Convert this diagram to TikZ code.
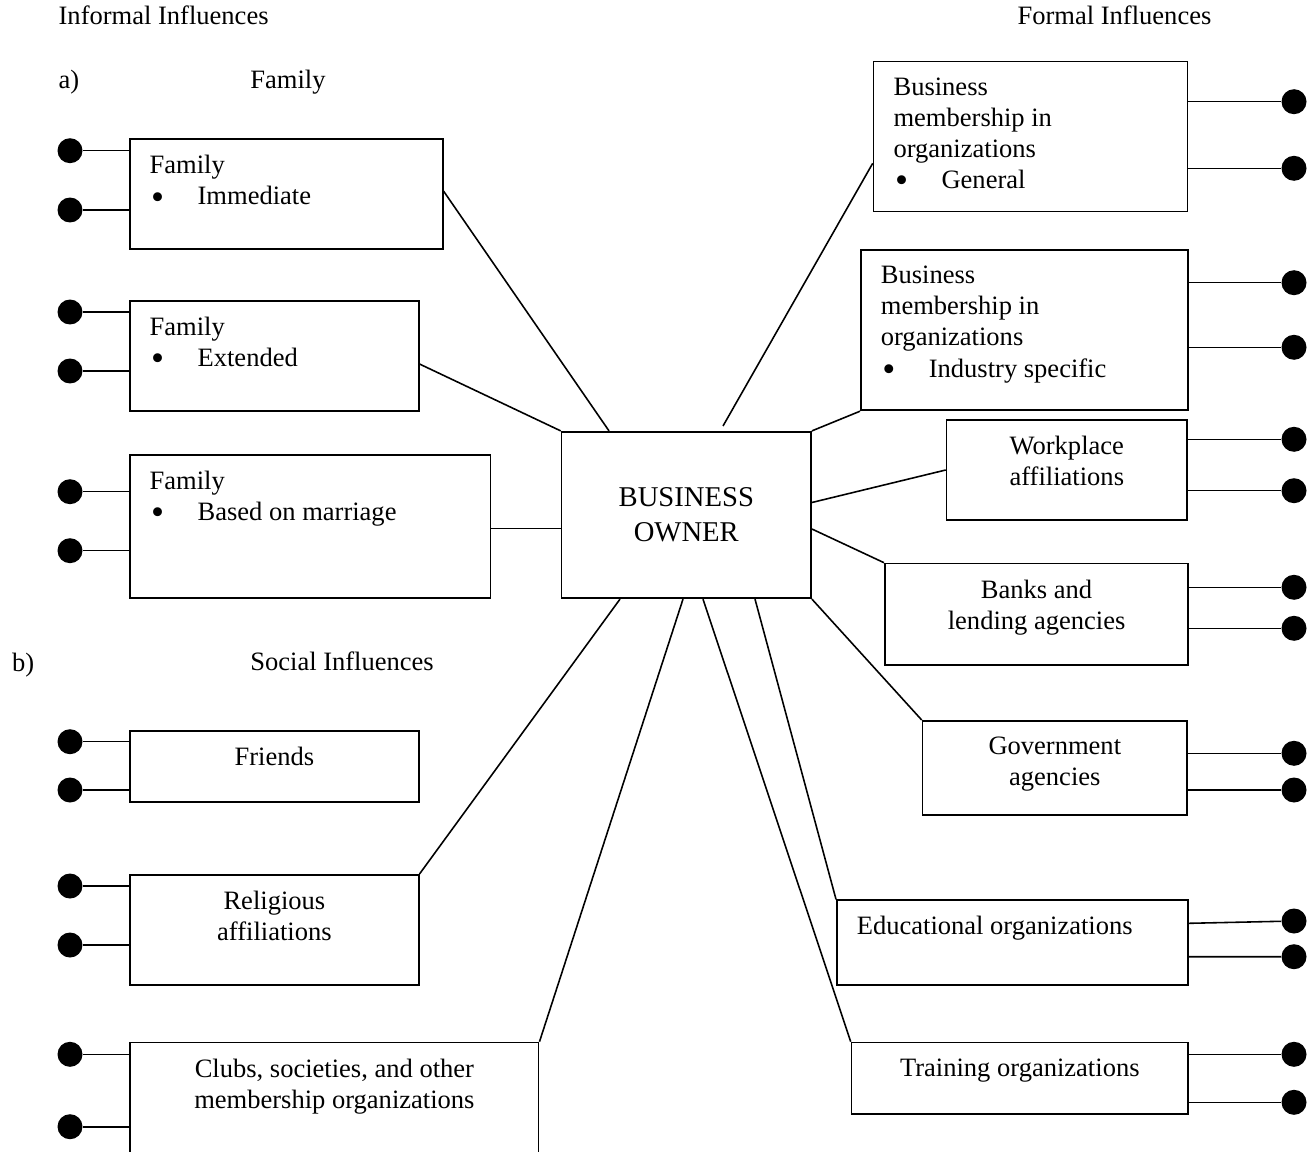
\documentclass[tikz,border=0pt]{standalone}
\usepackage{fontspec}
\setmainfont{Liberation Serif}
\usetikzlibrary{calc}
\tikzset{
  box/.style={draw, line width=1pt, anchor=north west, inner sep=0pt},
  dot/.style={circle, fill, inner sep=0pt, minimum size=.5cm},
  head/.style={anchor=base west, inner sep=0pt},
}
\tikzstyle{every node}=[font=\fontsize{15.1pt}{17.7pt}\selectfont]
\tikzstyle{link}=[line width=.9pt]
\tikzstyle{txt}=[inner sep=0pt, anchor=north, align=center]
\tikzstyle{ltxt}=[inner sep=0pt, anchor=north west, align=left]
\newcommand{\bul}[1]{\makebox[.96cm][l]{\hspace{.03cm}\raisebox{-2.4pt}{\scalebox{1.4}{\textbullet}}}#1}

\begin{document}
\begin{tikzpicture}[x=.02cm, y=-.02cm]
    \useasboundingbox (0,0) rectangle (1311,1152);
    % headings
    \node[head] (hinf) at (58.3,25) {Informal Influences};
    \node[head, anchor=base east] (hform) at (1211.7,25) {Formal Influences};
    \node[head] (ha) at (58.3,88.3) {a)};
    \node[head] (hfam) at (250,88.3) {Family};
    \node[head] (hb) at (11.7,671.5) {b)};
    \node[head] (hsoc) at (250,670.5) {Social Influences};
    % centre
    \node[box, anchor=center, minimum width=4.99cm, minimum height=3.33cm, align=center,
      font=\fontsize{16.3pt}{19.7pt}\selectfont] (bo) at (686.3,515) {BUSINESS\\OWNER};
    % informal side
    \node[box, minimum width=6.25cm, minimum height=2.2cm] (imm) at (129.3,138.3) {};
    \node[ltxt] (imm-t) at ($(imm.north west)+(20,16.8)$) {Family\\\bul{Immediate}};
    \node[box, minimum width=5.77cm, minimum height=2.2cm] (ext) at (129.3,300) {};
    \node[ltxt] (ext-t) at ($(ext.north west)+(20,16.8)$) {Family\\\bul{Extended}};
    \node[box, minimum width=7.21cm, minimum height=2.87cm] (mar) at (129.3,454) {};
    \node[ltxt] (mar-t) at ($(mar.north west)+(20,16.8)$) {Family\\\bul{Based on marriage}};
    \node[box, minimum width=5.77cm, minimum height=1.43cm] (fri) at (129.3,730) {};
    \node[txt] (fri-t) at ($(fri.north)+(0,16.8)$) {Friends};
    \node[box, minimum width=5.77cm, minimum height=2.2cm] (rel) at (129.3,874) {};
    \node[txt] (rel-t) at ($(rel.north)+(0,16.8)$) {Religious\\affiliations};
    \node[box, minimum width=8.17cm, minimum height=2.3cm] (clu) at (129.3,1041.7) {};
    \node[txt] (clu-t) at ($(clu.north)+(0,16.8)$) {Clubs, societies, and other\\membership organizations};
    % formal side
    \node[box, minimum width=6.28cm, minimum height=3cm] (gen) at (872.7,60.7) {};
    \node[ltxt] (gen-t) at ($(gen.north west)+(20.5,16.8)$) {Business\\membership in\\organizations\\\bul{General}};
    \node[box, minimum width=6.54cm, minimum height=3.21cm] (ind) at (860,249) {};
    \node[ltxt] (ind-t) at ($(ind.north west)+(20.5,16.8)$) {Business\\membership in\\organizations\\\bul{Industry specific}};
    \node[box, minimum width=4.81cm, minimum height=1.99cm] (wor) at (945.7,419.3) {};
    \node[txt] (wor-t) at ($(wor.north)+(0,16.8)$) {Workplace\\affiliations};
    \node[box, minimum width=6.07cm, minimum height=2.03cm] (ban) at (884,562.7) {};
    \node[txt] (ban-t) at ($(ban.north)+(0,16.8)$) {Banks and\\lending agencies};
    \node[box, minimum width=5.29cm, minimum height=1.89cm] (gov) at (921.7,720) {};
    \node[txt] (gov-t) at ($(gov.north)+(0,16.8)$) {Government\\agencies};
    \node[box, minimum width=7.03cm, minimum height=1.69cm] (edu) at (836,899.3) {};
    \node[ltxt] (edu-t) at ($(edu.north west)+(20.5,16.8)$) {Educational organizations};
    \node[box, minimum width=6.73cm, minimum height=1.43cm] (tra) at (850.7,1041.7) {};
    \node[txt] (tra-t) at ($(tra.north)+(0,16.8)$) {Training organizations};
    % spokes to the owner
    \coordinate (genend) at (723,426);
    \draw[link] (imm.east |- 0,191) -- (bo.north -| 609,0);
    \draw[link] (ext.east |- 0,364) -- (bo.north west);
    \draw[link] (mar.east |- 0,528.3) -- (bo.west |- 0,528.3);
    \draw[link] (rel.north east) -- (bo.south -| 620,0);
    \draw[link] (clu.north east) -- (bo.south -| 683,0);
    \draw[link] (gen.west |- 0,163.3) -- (genend);
    \draw[link] (ind.south west) -- (bo.north east);
    \draw[link] (wor.west |- 0,470) -- (bo.east |- 0,502.5);
    \draw[link] (ban.north west) -- (bo.east |- 0,529);
    \draw[link] (gov.north west) -- (bo.south east);
    \draw[link] (edu.north west) -- (bo.south -| 755,0);
    \draw[link] (tra.north west) -- (bo.south -| 703,0);
    % dots, left
    \node[dot] (imm1) at (70,150.7) {}; \node[dot] (imm2) at (70,210) {};
    \draw[link] (imm1) -- (imm1 -| imm.west) (imm2) -- (imm2 -| imm.west);
    \node[dot] (ext1) at (70,312) {}; \node[dot] (ext2) at (70,371) {};
    \draw[link] (ext1) -- (ext1 -| ext.west) (ext2) -- (ext2 -| ext.west);
    \node[dot] (mar1) at (70,491.7) {}; \node[dot] (mar2) at (70,550.7) {};
    \draw[link] (mar1) -- (mar1 -| mar.west) (mar2) -- (mar2 -| mar.west);
    \node[dot] (fri1) at (70,741.7) {}; \node[dot] (fri2) at (70,790) {};
    \draw[link] (fri1) -- (fri1 -| fri.west) (fri2) -- (fri2 -| fri.west);
    \node[dot] (rel1) at (70,886) {}; \node[dot] (rel2) at (70,945) {};
    \draw[link] (rel1) -- (rel1 -| rel.west) (rel2) -- (rel2 -| rel.west);
    \node[dot] (clu1) at (70,1054.3) {}; \node[dot] (clu2) at (70,1126.7) {};
    \draw[link] (clu1) -- (clu1 -| clu.west) (clu2) -- (clu2 -| clu.west);
    % dots, right
    \node[dot] (gen1) at (1294,101.7) {}; \node[dot] (gen2) at (1294,168.3) {};
    \draw[link] (gen1) -- (gen1 -| gen.east) (gen2) -- (gen2 -| gen.east);
    \node[dot] (ind1) at (1294,282.7) {}; \node[dot] (ind2) at (1294,347.3) {};
    \draw[link] (ind1) -- (ind1 -| ind.east) (ind2) -- (ind2 -| ind.east);
    \node[dot] (wor1) at (1294,439.3) {}; \node[dot] (wor2) at (1294,490.7) {};
    \draw[link] (wor1) -- (wor1 -| wor.east) (wor2) -- (wor2 -| wor.east);
    \node[dot] (ban1) at (1294,587.3) {}; \node[dot] (ban2) at (1294,628.3) {};
    \draw[link] (ban1) -- (ban1 -| ban.east) (ban2) -- (ban2 -| ban.east);
    \node[dot] (gov1) at (1294,753.3) {}; \node[dot] (gov2) at (1294,790) {};
    \draw[link] (gov1) -- (gov1 -| gov.east) (gov2) -- (gov2 -| gov.east);
    \node[dot] (edu1) at (1294,921) {}; \node[dot] (edu2) at (1294,956.7) {};
    \draw[link] (edu1) -- (edu.east |- 0,923.3) (edu2) -- (edu2 -| edu.east);
    \node[dot] (tra1) at (1294,1054.3) {}; \node[dot] (tra2) at (1294,1102.3) {};
    \draw[link] (tra1) -- (tra1 -| tra.east) (tra2) -- (tra2 -| tra.east);
\end{tikzpicture}
\end{document}
